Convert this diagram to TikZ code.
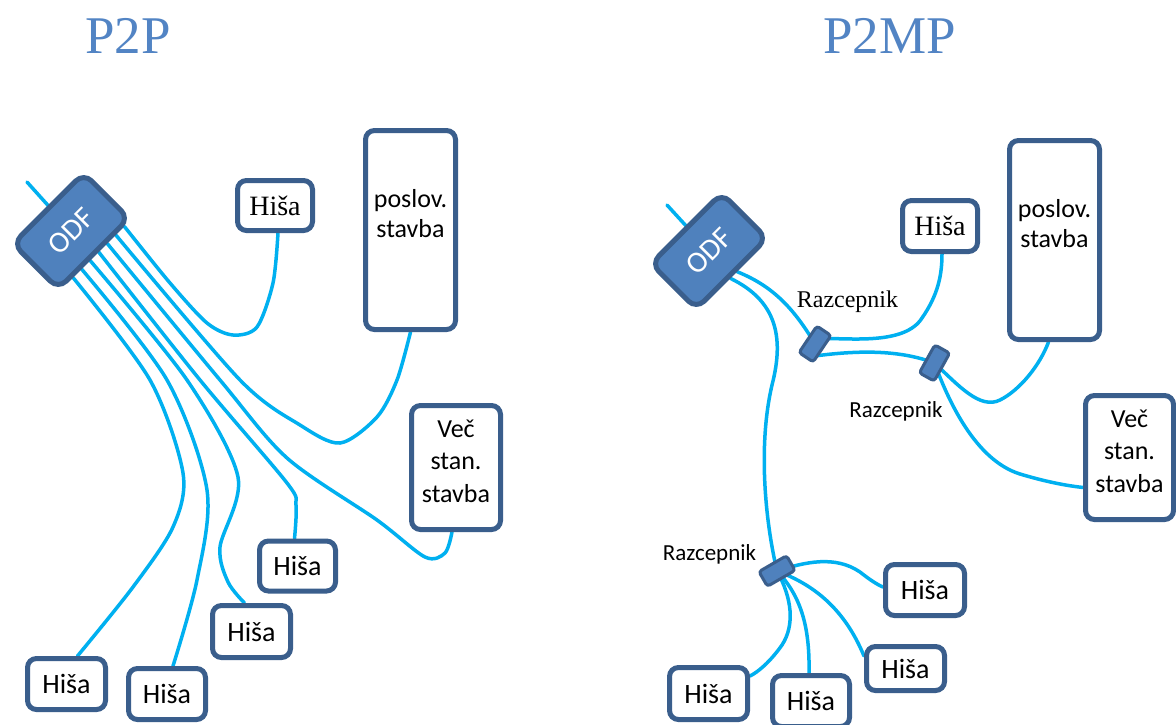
\documentclass[tikz,border=0pt]{standalone}
\usepackage{fontspec}
\setmainfont{Liberation Serif}
\newfontfamily\calfont{Carlito}
\usetikzlibrary{backgrounds,calc}
\definecolor{fiber}{HTML}{00B0F0}
\definecolor{edgeblue}{HTML}{3A5E8C}
\definecolor{odfblue}{HTML}{4F81BD}
\definecolor{titleblue}{HTML}{5284C4}
\begin{document}
\begin{tikzpicture}[x=1pt,y=-1pt,
 box/.style={draw=edgeblue,line width=5pt,rounded corners=9pt,fill=white,inner sep=0pt},
 hsans/.style={box,font=\calfont\fontsize{28}{34}\selectfont},
 hserif/.style={box,font=\fontsize{28}{34}\selectfont},
 btext/.style={align=center,inner sep=0pt,font=\calfont\fontsize{26}{30}\selectfont},
 vtext/.style={align=center,inner sep=0pt,font=\calfont\fontsize{26}{32.5}\selectfont},
 odf/.style={draw=edgeblue,line width=5pt,rounded corners=11pt,fill=odfblue,rotate=45,minimum width=100pt,minimum height=64pt,text=white,font=\calfont\fontsize{30}{32}\selectfont,inner sep=0pt},
 rz/.style={draw=edgeblue,line width=3pt,rounded corners=3pt,fill=odfblue,minimum width=32pt,minimum height=17pt,inner sep=0pt},
 fib/.style={draw=fiber,line width=3.5pt,line cap=round},
 lblserif/.style={anchor=base,inner sep=0pt,font=\fontsize{24}{28}\selectfont},
 lblsans/.style={anchor=base,inner sep=0pt,font=\calfont\fontsize{23}{28}\selectfont},
 ttl/.style={anchor=base,inner sep=0pt,font=\fontsize{53}{60}\selectfont,text=titleblue},
]
\useasboundingbox (0,0) rectangle (1176,724);

% ---------- P2P ----------
\node[ttl] (t1) at (128,53) {P2P};
\node[odf] (odf1) at (71,231) {ODF};
\node[hserif,minimum width=75pt,minimum height=50pt] (h0) at (275,205.5) {Hiša};
\node[box,minimum width=90pt,minimum height=199pt] (pos1) at (410.5,230) {};
\node[btext] (pos1t) at (410.5,214) {poslov.\\stavba};
\node[box,minimum width=89pt,minimum height=124pt] (vec1) at (456,467.5) {};
\node[vtext] (vec1t) at (456,461) {Več\\stan.\\stavba};
\node[hsans,minimum width=76pt,minimum height=50pt] (h1) at (297.5,566) {Hiša};
\node[hsans,minimum width=78pt,minimum height=52pt] (h2) at (251.5,631.5) {Hiša};
\node[hsans,minimum width=78pt,minimum height=51pt] (h3) at (66.5,684) {Hiša};
\node[hsans,minimum width=77pt,minimum height=51pt] (h4) at (167,694) {Hiša};

% ---------- P2MP ----------
\node[ttl] (t2) at (889.5,53) {P2MP};
\node[odf] (odf2) at (709,251) {ODF};
\node[hserif,minimum width=75pt,minimum height=51pt] (h5) at (940,226) {Hiša};
\node[box,minimum width=90pt,minimum height=199pt] (pos2) at (1054.5,240) {};
\node[btext] (pos2t) at (1054.5,224) {poslov.\\stavba};
\node[box,minimum width=88pt,minimum height=124pt] (vec2) at (1129.5,457.5) {};
\node[vtext] (vec2t) at (1129.5,451) {Več\\stan.\\stavba};
\node[hsans,minimum width=79pt,minimum height=51pt] (h6) at (925,590) {Hiša};
\node[hsans,minimum width=78pt,minimum height=44pt] (h7) at (905.5,668.5) {Hiša};
\node[hsans,minimum width=77pt,minimum height=51pt] (h8) at (811,701) {Hiša};
\node[hsans,minimum width=78pt,minimum height=52pt] (h9) at (708.5,693.5) {Hiša};
\node[rz,rotate=56] (rz1) at (815,344) {};
\node[rz,rotate=61] (rz2) at (934.5,363) {};
\node[rz,rotate=30] (rz3) at (777,571) {};
\node[lblserif] (l1) at (847.5,307) {Razcepnik};
\node[lblsans] (l2) at (896,417) {Razcepnik};
\node[lblsans] (l3) at (709.5,560) {Razcepnik};

\coordinate (in1) at (27,182);
\coordinate (in2) at (667,205);
\foreach \i/\t in {1/0.2,2/0.315,3/0.43,4/0.545,5/0.66,6/0.775,7/0.89}
  \coordinate (s\i) at ($(odf1.south west)!\t!(odf1.south east)$);
\coordinate (oa) at ($(odf2.south west)!0.55!(odf2.south east)$);
\coordinate (ob) at ($(odf2.south west)!0.46!(odf2.south east)$);
\coordinate (r1a) at ($(rz1.center)!0.6!(rz1.south east)$);
\coordinate (r1b) at ($(rz1.center)!0.6!(rz1.south west)$);

\begin{scope}[on background layer]
\fill[white] (0,0) rectangle (1176,724);
% P2P fibres
\draw[fib] (in1) -- (odf1.center);
\draw[fib] plot[smooth] coordinates {(s1) (150,380) (183,473) (173,527) (133,587) ([xshift=11pt]h3.north)};
\draw[fib] plot[smooth] coordinates {(s2) (167,380) (207,490) (197,580) ([xshift=6pt]h4.north)};
\draw[fib] plot[smooth] coordinates {(s3) (187,380) (238,477) (220,547) (228,582) ([xshift=-7pt]h2.north)};
\draw[fib] plot[smooth] coordinates {(s4) (200,380) (287,483) (296,505) ([xshift=-3pt]h1.north)};
\draw[fib] plot[smooth] coordinates {(s5) (220,380) (287,458) (377,520) (425,557) (445,553) ([xshift=-4pt]vec1.south)};
\draw[fib] plot[smooth] coordinates {(s6) (240,380) (300,425) (340,443) (377,417) (397,380) (pos1.south)};
\draw[fib] plot[smooth] coordinates {(s7) (170,283) (207,323) (233,335) (257,327) (273,283) ([xshift=3pt]h0.south)};
% P2MP fibres
\draw[fib] (in2) -- (odf2.center);
\draw[fib] (oa) .. controls (770,285) and (792,305) .. (rz1.center);
\draw[fib] (ob) .. controls (775,300) and (785,335) .. (772,385)
  .. controls (758,445) and (765,520) .. (rz3.center);
\draw[fib] (r1a) .. controls (850,338) and (905,345) .. (922,318)
  .. controls (938,295) and (942,275) .. ([xshift=2pt]h5.south);
\draw[fib] (r1b) .. controls (860,350) and (900,350) .. (rz2.center);
\draw[fib] (rz2.center) .. controls (958,385) and (980,410) .. (1000,400)
  .. controls (1020,390) and (1040,365) .. ([xshift=-6pt]pos2.south);
\draw[fib] (rz2.center) .. controls (948,400) and (975,460) .. (1020,474)
  .. controls (1050,483) and (1070,486) .. ([yshift=-30pt]vec2.west);
\draw[fib] (rz3.center) .. controls (805,562) and (835,555) .. (860,572)
  .. controls (870,580) and (878,585) .. ([yshift=3pt]h6.west);
\draw[fib] (rz3.center) .. controls (815,585) and (845,610) .. ([yshift=-12pt]h7.north west);
\draw[fib] (rz3.center) .. controls (800,595) and (810,625) .. ([xshift=-2pt]h8.north);
\draw[fib] (rz3.center) .. controls (792,598) and (795,625) .. (782,645)
  .. controls (770,662) and (758,672) .. ([yshift=-11pt]h9.north east);
\end{scope}
\end{tikzpicture}
\end{document}
